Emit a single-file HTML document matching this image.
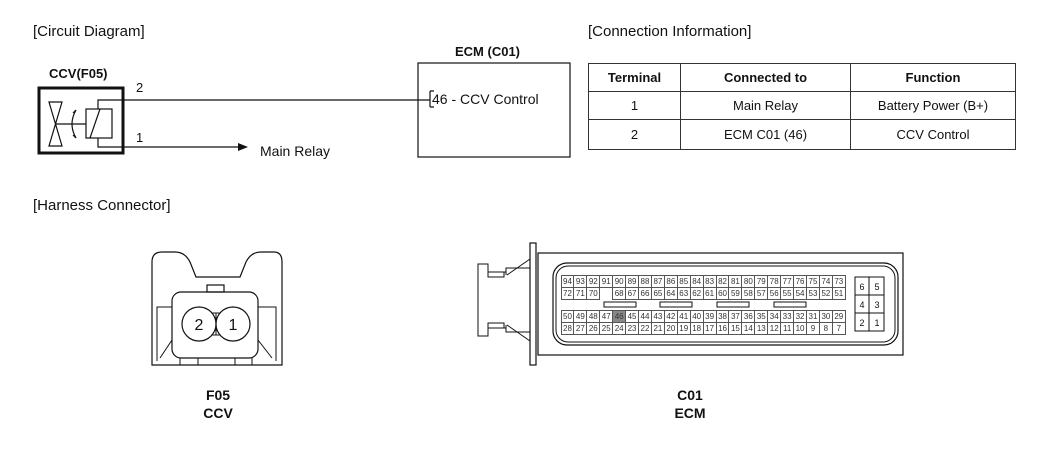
<!DOCTYPE html>
<html><head><meta charset="utf-8"><style>
body{margin:0;width:1050px;height:456px;background:#fff;position:relative;overflow:hidden;font-family:"Liberation Sans",Arial,sans-serif;color:#111}
.t{position:absolute;white-space:nowrap}
.grid{position:absolute;display:grid;grid-template-columns:repeat(22,12.93px);grid-auto-rows:12px}
.grid div{border:1px solid #555;margin:-0.5px;font-size:8px;line-height:11px;text-align:center;color:#333;background:#fff;box-sizing:border-box}
.grid div.g{background:#888}
.grid div.e{border:none;background:transparent}
table{position:absolute;left:588px;top:63px;border-collapse:collapse;font-size:13px}
td,th{border:1.3px solid #333;text-align:center;padding:0;height:27px}
th{font-size:13px}
</style></head><body>
<div class="t" style="left:33px;top:23px;font-size:15px">[Circuit Diagram]</div>
<div class="t" style="left:588px;top:23px;font-size:15px">[Connection Information]</div>
<div class="t" style="left:33px;top:197px;font-size:15px">[Harness Connector]</div>
<div class="t" style="left:49px;top:66px;font-size:13px;font-weight:bold">CCV(F05)</div>
<div class="t" style="left:455px;top:44px;font-size:13px;font-weight:bold">ECM (C01)</div>
<div class="t" style="left:136px;top:80px;font-size:13px">2</div>
<div class="t" style="left:136px;top:130px;font-size:13px">1</div>
<div class="t" style="left:260px;top:143px;font-size:14px">Main Relay</div>
<div class="t" style="left:432px;top:91px;font-size:14px">46 - CCV Control</div>
<div class="t" style="left:198px;top:386px;font-size:14px;font-weight:bold;text-align:center;width:40px;line-height:18px">F05<br>CCV</div>
<div class="t" style="left:670px;top:386px;font-size:14px;font-weight:bold;text-align:center;width:40px;line-height:18px">C01<br>ECM</div>
<svg width="1050" height="456" style="position:absolute;left:0;top:0" fill="none" stroke="#111">
 <rect x="39" y="88" width="84" height="65" stroke-width="3"/>
 <path d="M98 109 V100 H430 M98 138 V147 H240" stroke-width="1.2"/>
 <polygon points="238,143 238,151 248,147" fill="#111" stroke="none"/>
 <rect x="86" y="109" width="26" height="29" stroke-width="1.2"/>
 <path d="M90 138 L100 109" stroke-width="1.2"/>
 <path d="M49 102 L62 102 L49 146 L62 146 Z" stroke-width="1.2"/>
 <path d="M55 124 H86" stroke-width="1.2"/>
 <path d="M76 110 Q68 124 76 138" stroke-width="1.2"/>
 <path d="M76 110 l-3 3 M76 138 l-3 -3" stroke-width="1.2"/>
 <rect x="418" y="63" width="152" height="94" stroke-width="1.2"/>
 <path d="M430 91 V107 M430 91 h4 M430 107 h4" stroke-width="1.2"/>
 <!-- F05 connector -->
 <path d="M152 365 V262 Q152 252 162 252 H175 Q185 252 190 262 L196 277 H240 L246 262 Q251 252 261 252 H274 Q282 252 282 262 V365 Z" stroke-width="1.2"/>
 <rect x="172" y="292" width="86" height="66" rx="9" stroke-width="1.2"/>
 <rect x="207" y="285" width="17" height="7" stroke-width="1.2"/>
 <path d="M172 307 H157 V361 M172 340 L160 358 M258 307 H276 V361 M258 340 L272 358 M180 358 V365 M198 358 V365 M235 358 V365 M252 358 V365" stroke-width="1"/>
 <circle cx="199" cy="324" r="17" stroke-width="1.2"/>
 <circle cx="233" cy="324" r="17" stroke-width="1.2"/>
 <path d="M212 313 H220 M212 335 H220 M216 313 V335" stroke-width="1"/>
 <text x="199" y="330" font-size="16" fill="#111" stroke="none" text-anchor="middle" font-family="Liberation Sans">2</text>
 <text x="233" y="330" font-size="16" fill="#111" stroke="none" text-anchor="middle" font-family="Liberation Sans">1</text>
 <!-- ECM connector -->
 <rect x="538" y="253" width="365" height="102" stroke-width="1.2"/>
 <rect x="553" y="263" width="345" height="82" rx="14" stroke-width="1.2"/>
 <rect x="556" y="266" width="339" height="76" rx="12" stroke-width="1"/>
 <rect x="530" y="243" width="6" height="122" stroke-width="1.2"/>
 <path d="M530 268 H506 V272 H488 V264 H478 V336 H488 V328 H506 V332 H530 M506 268 V275 M506 332 V325 M507 275 L530 259 M507 325 L530 341 M488 272 V277 H504 V272 M488 328 V323 H504 V328" stroke-width="1"/>
 <rect x="855" y="277" width="29" height="54" stroke-width="1"/>
 <path d="M855 295 H884 M855 313 H884 M869 277 V331" stroke-width="1"/>
 <rect x="604" y="302" width="32" height="5" stroke-width="1"/>
 <rect x="660" y="302" width="32" height="5" stroke-width="1"/>
 <rect x="717" y="302" width="32" height="5" stroke-width="1"/>
 <rect x="774" y="302" width="32" height="5" stroke-width="1"/>
 <g font-size="9" fill="#111" stroke="none" text-anchor="middle" font-family="Liberation Sans">
 <text x="862" y="290">6</text><text x="877" y="290">5</text>
 <text x="862" y="308">4</text><text x="877" y="308">3</text>
 <text x="862" y="326">2</text><text x="877" y="326">1</text></g>
</svg>
<div class="grid" style="left:561px;top:275px">
<div>94</div><div>93</div><div>92</div><div>91</div><div>90</div><div>89</div><div>88</div><div>87</div><div>86</div><div>85</div><div>84</div><div>83</div><div>82</div><div>81</div><div>80</div><div>79</div><div>78</div><div>77</div><div>76</div><div>75</div><div>74</div><div>73</div>
<div>72</div><div>71</div><div>70</div><div class="e"></div><div>68</div><div>67</div><div>66</div><div>65</div><div>64</div><div>63</div><div>62</div><div>61</div><div>60</div><div>59</div><div>58</div><div>57</div><div>56</div><div>55</div><div>54</div><div>53</div><div>52</div><div>51</div>
</div>
<div class="grid" style="left:561px;top:310px">
<div>50</div><div>49</div><div>48</div><div>47</div><div class="g">46</div><div>45</div><div>44</div><div>43</div><div>42</div><div>41</div><div>40</div><div>39</div><div>38</div><div>37</div><div>36</div><div>35</div><div>34</div><div>33</div><div>32</div><div>31</div><div>30</div><div>29</div>
<div>28</div><div>27</div><div>26</div><div>25</div><div>24</div><div>23</div><div>22</div><div>21</div><div>20</div><div>19</div><div>18</div><div>17</div><div>16</div><div>15</div><div>14</div><div>13</div><div>12</div><div>11</div><div>10</div><div>9</div><div>8</div><div>7</div>
</div>
<table>
<tr><th style="width:91px;height:24px">Terminal</th><th style="width:169px">Connected to</th><th style="width:164px">Function</th></tr>
<tr><td>1</td><td>Main Relay</td><td>Battery Power (B+)</td></tr>
<tr><td style="height:29px">2</td><td>ECM C01 (46)</td><td>CCV Control</td></tr>
</table>
</body></html>
